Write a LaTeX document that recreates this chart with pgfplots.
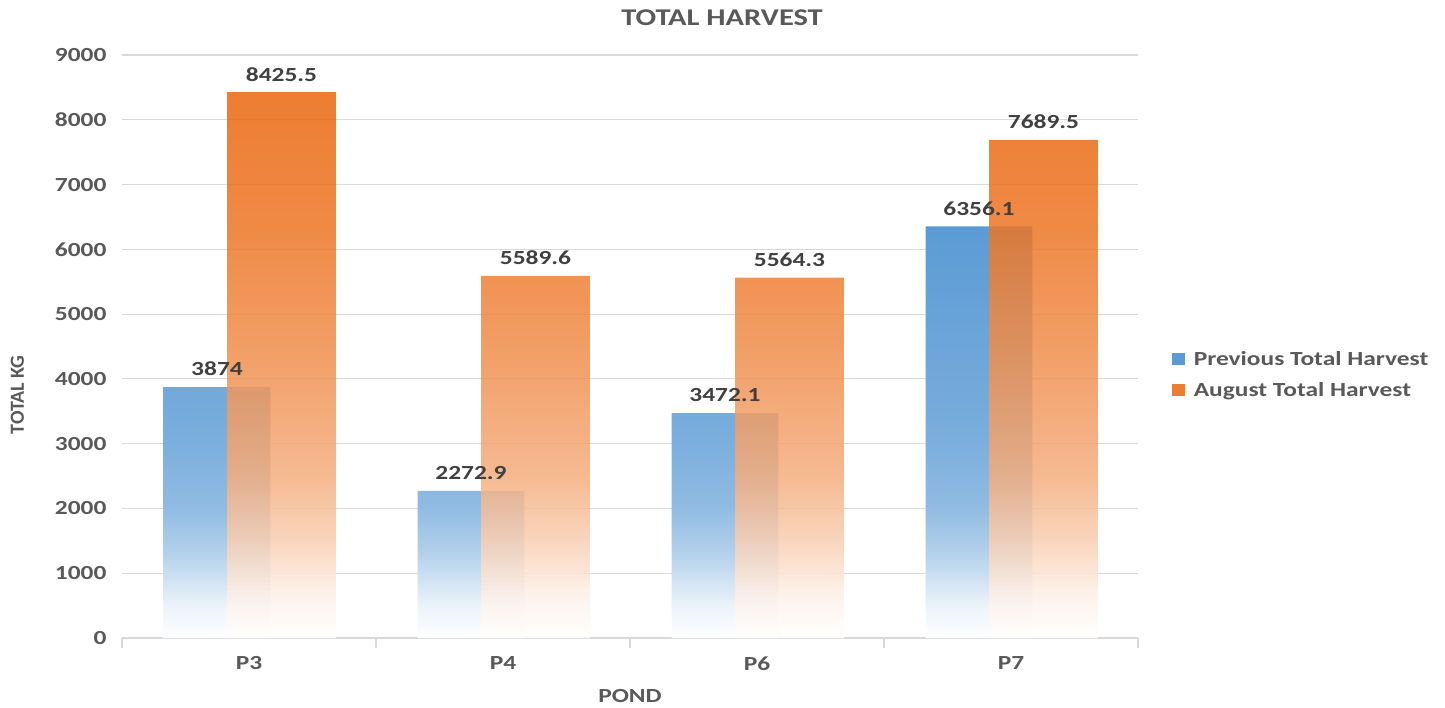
\documentclass[border=0pt]{standalone}
\usepackage{fontspec}
\setmainfont{Carlito}[FakeStretch=1.27]
\newfontfamily\plainfont{Carlito}
\usepackage{pgfplots}
\pgfplotsset{compat=1.18}
\definecolor{bblue}{HTML}{5B9BD5}
\definecolor{borange}{HTML}{ED7D31}
\definecolor{oshade}{HTML}{EA660D}
\definecolor{txt}{HTML}{595959}
\definecolor{lbl}{HTML}{404040}
\definecolor{grd}{HTML}{D9D9D9}
\pgfdeclareverticalshading{blueshade}{100bp}{color(0bp)=(white); color(25bp)=(white); color(29bp)=(bblue!12); color(35bp)=(bblue!45); color(41bp)=(bblue!68); color(50bp)=(bblue!82); color(65bp)=(bblue!93); color(75bp)=(bblue); color(100bp)=(bblue)}
\pgfdeclareverticalshading{orangeshade}{100bp}{color(0bp)=(white); color(25bp)=(white); color(29bp)=(oshade!10); color(34bp)=(oshade!32); color(40bp)=(oshade!54); color(50bp)=(oshade!72); color(62.5bp)=(oshade!90); color(75bp)=(oshade); color(100bp)=(oshade)}
\pgfplotstableread{
x y lab
-0.126 3874 3874
0.874 2272.9 2272.9
1.874 3472.1 3472.1
2.874 6356.1 6356.1
}\prevdata
\pgfplotstableread{
x y lab
0.128 8425.5 8425.5
1.128 5589.6 5589.6
2.128 5564.3 5564.3
3.128 7689.5 7689.5
}\augdata
\begin{document}
\begin{tikzpicture}
\begin{axis}[
  at={(0,0)}, anchor=south west,
  scale only axis, width=508pt, height=291.5pt,
  xmin=-0.5, xmax=3.5, ymin=0, ymax=9000,
  xtick={0,1,2,3}, xticklabels={P3,P4,P6,P7},
  minor xtick={-0.5,0.5,1.5,2.5,3.5},
  ytick={0,1000,...,9000},
  scaled ticks=false,
  /pgf/number format/1000 sep={},
  /pgf/number format/assume math mode=true,
  axis lines*=left,
  y axis line style={draw=none},
  x axis line style={draw=grd, line width=0.8pt},
  ytick style={draw=none},
  major x tick style={draw=none},
  minor x tick style={draw=grd, line width=0.8pt},
  minor tick length=5pt,
  tick align=outside,
  ymajorgrids, grid style={draw=grd, line width=0.6pt},
  ticklabel style={font=\bfseries\fontsize{10}{12}\selectfont, text=txt},
  yticklabel style={xshift=0pt},
  xticklabel style={yshift=-1.5pt},
  title={TOTAL HARVEST},
  title style={at={(0.5906,1.043)}, anchor=center, font=\bfseries\fontsize{12}{14}\selectfont, text=txt},
  xlabel={POND},
  xlabel style={at={(0.5,-0.1)}, anchor=center, font=\bfseries\fontsize{10}{12}\selectfont, text=txt},
  ylabel={TOTAL KG},
  ylabel style={at={(-0.103,0.417)}, anchor=center, font=\plainfont\bfseries\fontsize{10}{12}\selectfont, text=txt},
  legend style={at={(1.027,0.45)}, anchor=west, draw=none, fill=none,
    font=\bfseries\fontsize{10}{12}\selectfont, text=txt, row sep=3pt},
  legend cell align=left,
  legend image code/.code={\fill[#1] (0pt,-2.5pt) rectangle (6.5pt,3.5pt); \path (0pt,0pt) -- (9pt,0pt);},
  nodes near coords,
  nodes near coords style={anchor=south, yshift=2pt, font=\bfseries\fontsize{10}{12}\selectfont, text=lbl},
]
\addlegendimage{fill=bblue, draw=none}
\addlegendentry{Previous Total Harvest}
\addlegendimage{fill=borange, draw=none}
\addlegendentry{August Total Harvest}

\addplot[ybar, bar width=0.421, bar shift=0, draw=none, shading=blueshade, forget plot,
  point meta=explicit symbolic] table[x=x, y=y, meta=lab] {\prevdata};
\addplot[ybar, bar width=0.428, bar shift=0, draw=none, shading=orangeshade, opacity=0.85, forget plot,
  point meta=explicit symbolic, nodes near coords style={opacity=1}] table[x=x, y=y, meta=lab] {\augdata};
\end{axis}
\pgfresetboundingbox
\path[use as bounding box] (-61pt,-34.5pt) rectangle (661.5pt,319pt);
\end{tikzpicture}
\end{document}
